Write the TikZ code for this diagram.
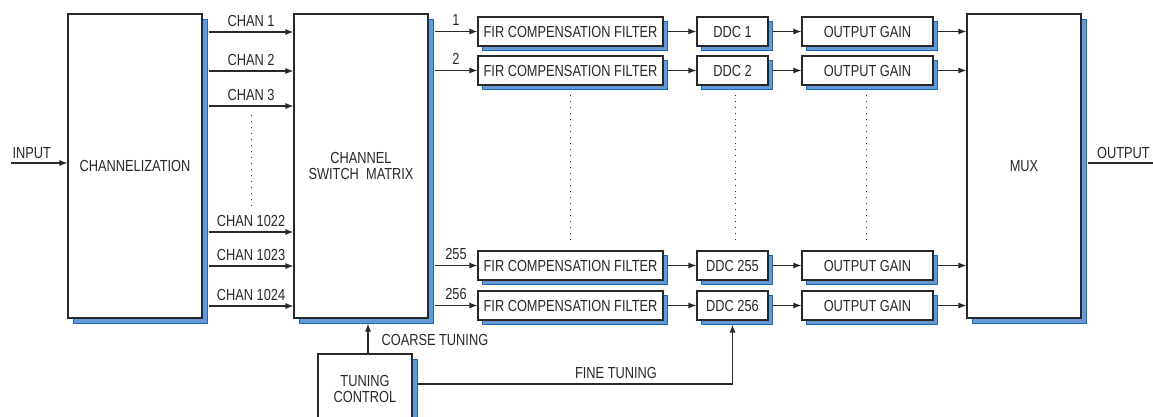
\documentclass[tikz,border=0pt]{standalone}
\usepackage{fontspec}
\setmainfont[FakeStretch=0.8]{Liberation Sans}
\usetikzlibrary{arrows.meta,shadows}
\definecolor{sfill}{RGB}{104,152,210}
\definecolor{sline}{RGB}{20,105,190}
\definecolor{ink}{RGB}{40,40,40}
\begin{document}
\begin{tikzpicture}[x=1pt,y=-1pt,
  font=\fontsize{16}{16.5}\selectfont,
  every node/.style={text=ink},
  blk/.style={draw=ink, line width=1.1pt, fill=white, inner sep=0pt, align=center,
    general shadow={shadow xshift=#1, shadow yshift=-#1, fill=sfill, draw=sline, line width=0.8pt}},
  blk/.default=5pt,
  big/.style={blk=5.5pt, minimum width=134pt, minimum height=304pt},
  fir/.style={blk=4pt, minimum width=185pt, minimum height=29pt},
  ddc/.style={blk=4pt, minimum width=71pt, minimum height=29pt},
  og/.style={blk=4pt, minimum width=131pt, minimum height=29pt},
  arr/.style={draw=ink, line width=1.1pt, -{Latex[length=8pt,width=6pt]}},
  ln/.style={draw=ink, line width=1.1pt},
  dots/.style={draw=ink, line width=1.2pt, dash pattern=on 1.2pt off 4.8pt},
  lab/.style={above=4pt, inner sep=1pt}
]
\useasboundingbox (0,0) rectangle (1153,417);
\clip (0,0) rectangle (1153,417);

% main blocks
\node[big] (chz) at (135,166) {CHANNELIZATION};
\node[big] (sw) at (361,166) {CHANNEL\\SWITCH\ \ MATRIX};
\node[big, minimum width=114pt] (mux) at (1024,166) {MUX};
\node[blk, minimum width=94pt, minimum height=70pt] (tc) at (365,389) {TUNING\\[-1pt]CONTROL};

% shadow edges
\coordinate (chzR) at ([xshift=6pt]chz.east);
\coordinate (swR) at ([xshift=6pt]sw.east);
\coordinate (swB) at ([yshift=-5pt]sw.south);
\coordinate (muxR) at ([xshift=6pt]mux.east);
\coordinate (tcR) at ([xshift=5pt]tc.east);

% rows
\foreach \i/\y/\n in {1/31.5/1, 2/70.5/2, 3/265.5/255, 4/305.5/256}{
  \node[fir] (fir\i) at (570.5,\y) {FIR COMPENSATION FILTER};
  \node[ddc] (ddc\i) at (732.5,\y) {DDC \n};
  \node[og] (og\i) at (867.5,\y) {OUTPUT GAIN};
  \draw[arr] (swR |- fir\i.west) -- node[lab] {\n} (fir\i.west);
  \draw[arr] ([xshift=4pt]fir\i.east) -- (ddc\i.west);
  \draw[arr] ([xshift=4pt]ddc\i.east) -- (og\i.west);
  \draw[arr] ([xshift=4pt]og\i.east) -- (og\i.east -| mux.west);
}

% channel arrows
\foreach \y/\t [count=\k] in {32/CHAN 1, 71/CHAN 2, 106/CHAN 3, 232/CHAN 1022, 266/CHAN 1023, 306/CHAN 1024}{
  \coordinate (c\k) at (chzR |- 0,\y);
  \draw[arr] (c\k) -- node[lab] {\t} (c\k -| sw.west);
}

% dotted continuation lines
\coordinate (d1a) at (251.5,115); \coordinate (d1b) at (251.5,206);
\draw[dots] (d1a) -- (d1b);
\coordinate (d2a) at (570.5,95); \coordinate (d2b) at (570.5,240);
\draw[dots] (d2a) -- (d2b);
\coordinate (d3a) at (735.5,95); \coordinate (d3b) at (735.5,240);
\draw[dots] (d3a) -- (d3b);
\coordinate (d4a) at (866.5,95); \coordinate (d4b) at (866.5,240);
\draw[dots] (d4a) -- (d4b);

% input / output
\coordinate (inp) at (11,163);
\draw[arr] (inp) -- node[pos=0, anchor=south west, inner sep=1pt, yshift=3pt] {INPUT} (inp -| chz.west);
\coordinate (outp) at (1153,163);
\draw[ln] (muxR |- outp) -- node[pos=0, anchor=south west, inner sep=1pt, xshift=8pt, yshift=3pt] {OUTPUT} (outp);

% tuning
\coordinate (ct) at ([xshift=3pt]tc.north);
\draw[arr] (ct) -- node[pos=0.45, right=12pt, inner sep=1pt] {COARSE TUNING} (ct |- swB);
\coordinate (ft) at (tcR |- 0,384);
\coordinate (ftc) at ([yshift=-4pt]ddc4.south);
\draw[arr] (ft) -- node[pos=0.63, above=4pt, inner sep=1pt] {FINE TUNING} (ft -| ftc) -- (ftc);
\end{tikzpicture}
\end{document}
